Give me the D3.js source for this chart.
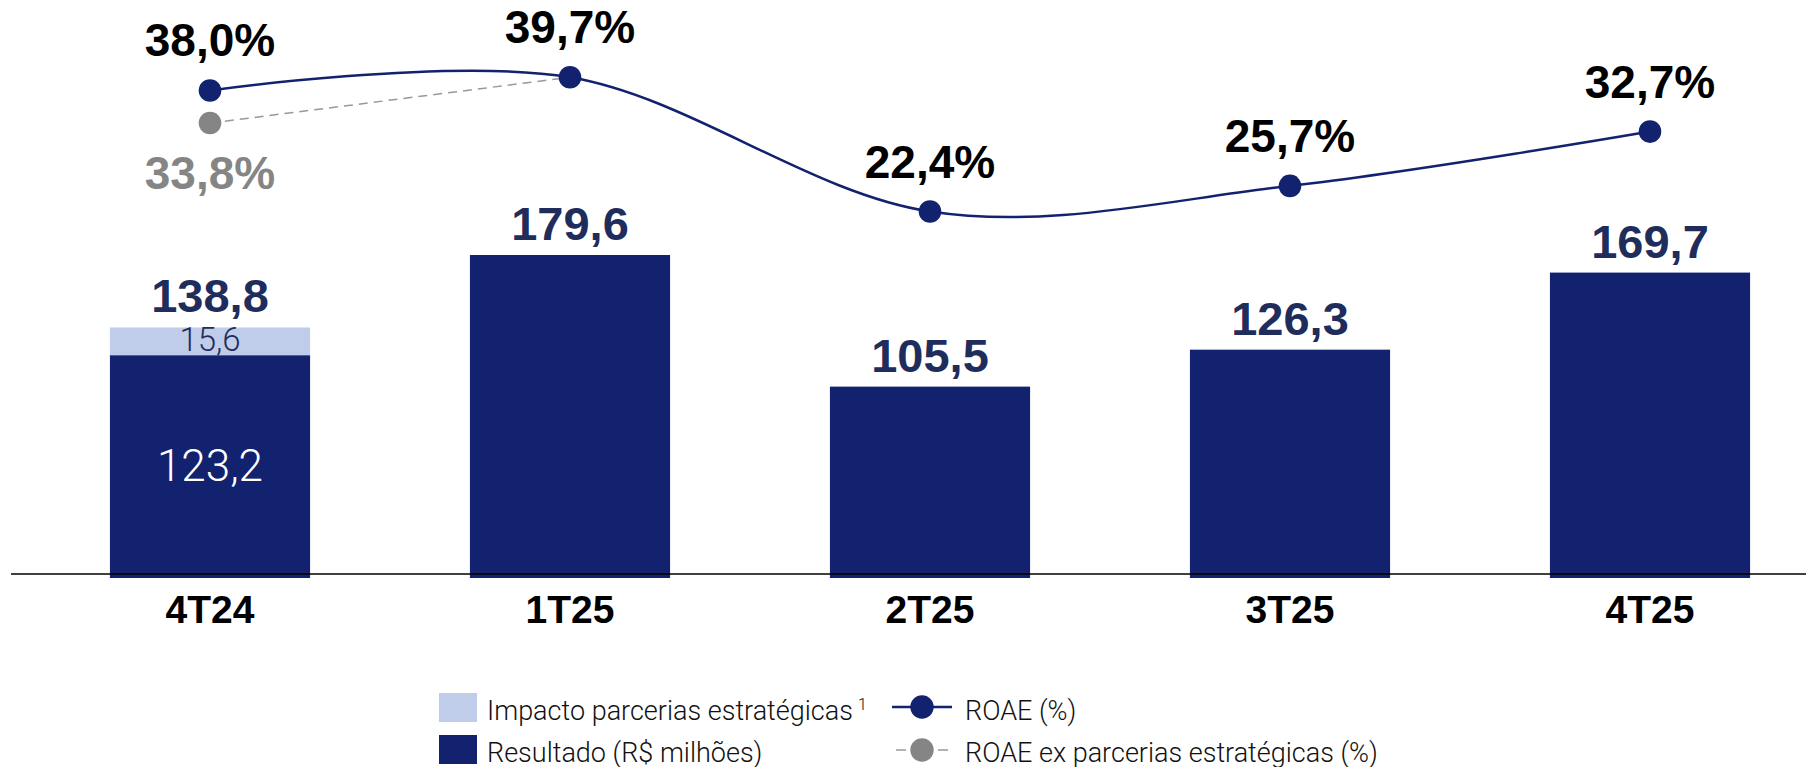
<!DOCTYPE html>
<html>
<head>
<meta charset="utf-8">
<script src="https://cdn.jsdelivr.net/npm/d3@7"></script>
<style>
  html, body { margin: 0; padding: 0; background: #fff; }
  svg { display: block; }
</style>
</head>
<body>
<div id="chart"></div>
<script>
// data
const categories = ["4T24", "1T25", "2T25", "3T25", "4T25"];
const resultado = [123.2, 179.6, 105.5, 126.3, 169.7];
const impacto = [15.6, 0, 0, 0, 0];
const roae = [38.0, 39.7, 22.4, 25.7, 32.7];
const roaeEx = [33.8, 39.7];          // only 4T24 and 1T25
const legendItems = ["Impacto parcerias estratégicas", "Resultado (R$ milhões)", "ROAE (%)", "ROAE ex parcerias estratégicas (%)"];

const width = 1806, height = 767;
const navy = "#12226f", light = "#bfcdeb", labelNavy = "#1f2d5c", grey = "#858585";
const boldFont = "'Liberation Sans', Arial, sans-serif";
const thinFont = "Roboto, 'Noto Sans', sans-serif";

const fmt = v => v.toFixed(1).replace(".", ",");

let svg = d3.select("#chart")
  .append("svg")
  .attr("width", width)
  .attr("height", height);

let x = d3.scaleBand()
  .domain(categories)
  .range([30, 1830])
  .paddingInner(0.444)
  .paddingOuter(0.222);

let baseY = 574;
let y = d3.scaleLinear()
  .domain([0, 179.6])
  .range([baseY, 255]);

let yLine = d3.scaleLinear()
  .domain([22.4, 39.7])
  .range([211.5, 77.3]);

// bars
let stacked = categories.map((c, i) => ({ cat: c, base: resultado[i], imp: impacto[i] }));

svg.append("g")
  .selectAll("rect")
  .data(stacked)
  .enter()
    .append("rect")
    .attr("x", d => x(d.cat))
    .attr("y", d => y(d.base))
    .attr("width", x.bandwidth())
    .attr("height", d => y(0) - y(d.base) + 4)
    .attr("fill", navy);

svg.append("g")
  .selectAll("rect")
  .data(stacked.filter(d => d.imp > 0))
  .enter()
    .append("rect")
    .attr("x", d => x(d.cat))
    .attr("y", d => y(d.base + d.imp))
    .attr("width", x.bandwidth())
    .attr("height", d => y(d.base) - y(d.base + d.imp))
    .attr("fill", light);

// axis line
svg.append("line")
  .attr("x1", 11).attr("x2", width)
  .attr("y1", baseY).attr("y2", baseY)
  .attr("stroke", "#000")
  .attr("stroke-width", 1.5);

// category labels
let xAxis = svg.append("g")
  .attr("transform", `translate(0,${baseY})`)
  .call(d3.axisBottom(x).tickSize(0).tickPadding(0));
xAxis.select(".domain").remove();
xAxis.selectAll("text")
  .attr("dy", null)
  .attr("y", 49)
  .style("font-family", boldFont)
  .style("font-weight", "bold")
  .style("font-size", "39px")
  .attr("fill", "#000");

// total labels above bars
svg.append("g")
  .selectAll("text")
  .data(stacked)
  .enter()
    .append("text")
    .attr("x", d => x(d.cat) + x.bandwidth() / 2)
    .attr("y", d => y(d.base + d.imp) - 15)
    .attr("text-anchor", "middle")
    .style("font-family", boldFont)
    .style("font-weight", "bold")
    .style("font-size", "47px")
    .attr("fill", labelNavy)
    .text(d => fmt(d.base + d.imp));

// inner labels for the stacked bar
let st = stacked.filter(d => d.imp > 0);
svg.append("g")
  .selectAll("text")
  .data(st)
  .enter()
    .append("text")
    .attr("x", d => x(d.cat) + x.bandwidth() / 2)
    .attr("y", d => y(d.base) - 4)
    .attr("text-anchor", "middle")
    .style("font-family", thinFont)
    .style("font-weight", 300)
    .style("font-size", "33px")
    .attr("fill", labelNavy)
    .text(d => fmt(d.imp));

svg.append("g")
  .selectAll("text")
  .data(st)
  .enter()
    .append("text")
    .attr("x", d => x(d.cat) + x.bandwidth() / 2)
    .attr("y", d => (y(d.base) + y(0)) / 2 + 16)
    .attr("text-anchor", "middle")
    .style("font-family", thinFont)
    .style("font-weight", 300)
    .style("font-size", "44px")
    .attr("fill", "#fff")
    .text(d => fmt(d.base));

// ROAE ex line (dashed grey)
let cx = c => x(c) + x.bandwidth() / 2;
let exPts = roaeEx.map((v, i) => ({ cat: categories[i], v: v }));
svg.append("path")
  .datum(exPts)
  .attr("fill", "none")
  .attr("stroke", "#999")
  .attr("stroke-width", 1.5)
  .attr("stroke-dasharray", "9,6")
  .attr("d", d3.line().x(d => cx(d.cat)).y(d => yLine(d.v)));

// ROAE line
let roaePts = roae.map((v, i) => ({ cat: categories[i], v: v }));
svg.append("path")
  .datum(roaePts)
  .attr("fill", "none")
  .attr("stroke", navy)
  .attr("stroke-width", 2.5)
  .attr("d", d3.line().curve(d3.curveCardinal.tension(0)).x(d => cx(d.cat)).y(d => yLine(d.v)));

svg.append("circle")
  .attr("cx", cx(exPts[0].cat))
  .attr("cy", yLine(exPts[0].v))
  .attr("r", 11.3)
  .attr("fill", grey);

svg.append("g")
  .selectAll("circle")
  .data(roaePts)
  .enter()
    .append("circle")
    .attr("cx", d => cx(d.cat))
    .attr("cy", d => yLine(d.v))
    .attr("r", 11.3)
    .attr("fill", navy);

// percent labels
svg.append("g")
  .selectAll("text")
  .data(roaePts)
  .enter()
    .append("text")
    .attr("x", d => cx(d.cat))
    .attr("y", d => yLine(d.v) - 34)
    .attr("text-anchor", "middle")
    .style("font-family", boldFont)
    .style("font-weight", "bold")
    .style("font-size", "46px")
    .attr("fill", "#000")
    .text(d => fmt(d.v) + "%");

svg.append("text")
  .attr("x", cx(exPts[0].cat))
  .attr("y", yLine(exPts[0].v) + 66)
  .attr("text-anchor", "middle")
  .style("font-family", boldFont)
  .style("font-weight", "bold")
  .style("font-size", "46px")
  .attr("fill", grey)
  .text(fmt(exPts[0].v) + "%");

// legend
let legend = svg.append("g")
  .style("font-family", thinFont)
  .style("font-weight", 300)
  .style("font-size", "27px")
  .attr("fill", "#111");

legend.append("rect").attr("x", 439).attr("y", 693).attr("width", 38).attr("height", 29).attr("fill", light);
legend.append("rect").attr("x", 439).attr("y", 735).attr("width", 38).attr("height", 29).attr("fill", navy);

let t0 = legend.append("text").attr("x", 487).attr("y", 719.5).text(legendItems[0]);
t0.append("tspan").attr("dx", 5).attr("dy", -10).style("font-size", "16px").text("1");
legend.append("text").attr("x", 487).attr("y", 761.5).text(legendItems[1]);

legend.append("line").attr("x1", 892).attr("x2", 952).attr("y1", 707).attr("y2", 707)
  .attr("stroke", navy).attr("stroke-width", 2.5);
legend.append("circle").attr("cx", 922).attr("cy", 707).attr("r", 11.7).attr("fill", navy);
legend.append("text").attr("x", 965).attr("y", 719.5).text(legendItems[2]);

legend.append("line").attr("x1", 896).attr("x2", 948).attr("y1", 750).attr("y2", 750)
  .attr("stroke", "#999").attr("stroke-width", 1.5).attr("stroke-dasharray", "10,32");
legend.append("circle").attr("cx", 922).attr("cy", 750).attr("r", 11.7).attr("fill", grey);
legend.append("text").attr("x", 965).attr("y", 761.5).text(legendItems[3]);
</script>
</body>
</html>
